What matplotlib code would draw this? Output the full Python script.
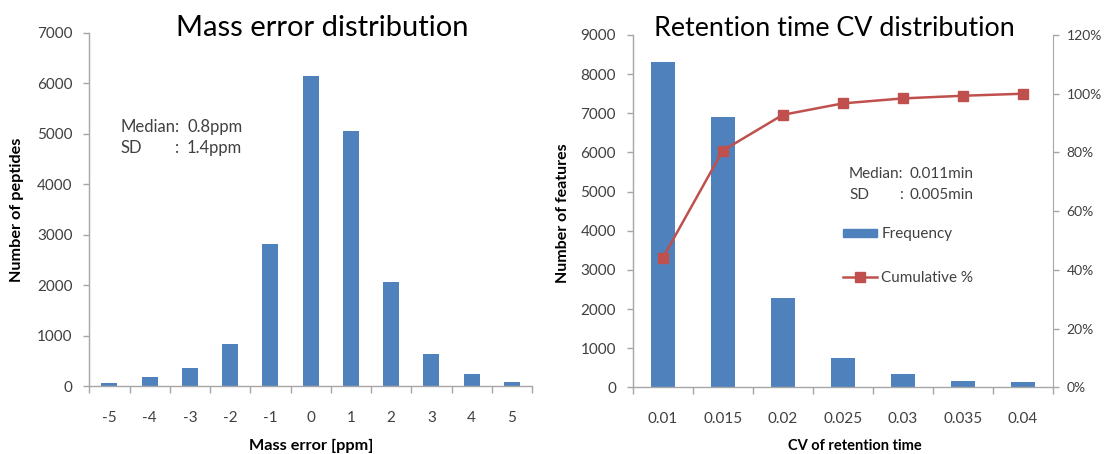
import matplotlib
matplotlib.use("Agg")
import matplotlib.pyplot as plt
from matplotlib.patches import Patch
from matplotlib.lines import Line2D
from matplotlib.ticker import MultipleLocator, FixedLocator

plt.rcParams['font.family'] = ['Lato', 'DejaVu Sans']

# Mass error histogram
mass_error_labels = ["-5", "-4", "-3", "-2", "-1", "0", "1", "2", "3", "4", "5"]
peptide_counts = [55, 185, 357, 827, 2811, 6145, 5060, 2057, 629, 244, 75]

# Retention time CV histogram with cumulative percentage
cv_labels = ["0.01", "0.015", "0.02", "0.025", "0.03", "0.035", "0.04"]
feature_counts = [8300, 6900, 2280, 740, 330, 165, 140]
cumulative_pct = [44.0, 80.6, 92.8, 96.7, 98.4, 99.3, 100.0]

BLUE = "#4F81BD"
RED = "#C0504D"
SPINE = "#A6A6A6"
TEXT = "#404040"
W, H = 1105, 454


def fx(px):
    return px / W


def fy(py):
    return 1 - py / H


fig = plt.figure(figsize=(W / 100, H / 100), dpi=100)


def style_axis(ax, n):
    ax.set_xlim(-0.5, n - 0.5)
    ax.xaxis.set_major_locator(FixedLocator(range(n)))
    ax.xaxis.set_minor_locator(FixedLocator([i - 0.5 for i in range(n + 1)]))
    ax.tick_params(axis='x', which='major', length=0, pad=18, labelsize=11, labelcolor=TEXT)
    ax.tick_params(axis='x', which='minor', length=5, width=1, color=SPINE, direction='out')
    ax.tick_params(axis='y', length=4, width=1, color=SPINE, labelsize=11, labelcolor=TEXT, pad=8)
    for s in ('top', 'right'):
        ax.spines[s].set_visible(False)
    for s in ('left', 'bottom'):
        ax.spines[s].set_color(SPINE)
        ax.spines[s].set_linewidth(1)


# ---- left panel ----
ax1 = fig.add_axes([fx(89.3), fy(386), fx(532 - 89.3), (386 - 33) / H])
x1 = list(range(len(mass_error_labels)))
ax1.bar(x1, peptide_counts, width=0.4, color=BLUE, zorder=2)
style_axis(ax1, len(x1))
ax1.set_xticklabels(mass_error_labels)
ax1.set_ylim(0, 7000)
ax1.yaxis.set_major_locator(MultipleLocator(1000))

fig.text(fx(322), fy(28), "Mass error distribution", ha='center', va='center',
         fontsize=21, color='black')
fig.text(fx(17), fy(210), "Number of peptides", rotation=90, ha='center', va='center',
         fontsize=11.7, fontweight='bold', color='black')
fig.text(fx(311), fy(446), "Mass error [ppm]", ha='center', va='center',
         fontsize=11.7, fontweight='bold', color='black')

for py, key, val in [(127, "Median:", "0.8ppm"), (148, "SD", "1.4ppm")]:
    fig.text(fx(120.7), fy(py), key, ha='left', va='center', fontsize=12, color=TEXT)
    fig.text(fx(187), fy(py), val, ha='left', va='center', fontsize=12, color=TEXT)
fig.text(fx(175), fy(148), ":", ha='left', va='center', fontsize=12, color=TEXT)

# ---- right panel ----
ax2 = fig.add_axes([fx(632.7), fy(387.3), fx(1052.7 - 632.7), (387.3 - 35) / H])
x2 = list(range(len(cv_labels)))
ax2.bar(x2, feature_counts, width=0.4, color=BLUE, zorder=2)
style_axis(ax2, len(x2))
ax2.set_xticklabels(cv_labels)
ax2.set_ylim(0, 9000)
ax2.yaxis.set_major_locator(MultipleLocator(1000))

ax3 = ax2.twinx()
ax3.set_ylim(0, 120)
ax3.plot(x2, cumulative_pct, color=RED, lw=1.8, marker='s', markersize=7.5,
         markeredgecolor=RED, markerfacecolor=RED, zorder=3)
ax3.set_yticks(range(0, 121, 20))
ax3.set_yticklabels([f"{v}%" for v in range(0, 121, 20)])
ax3.tick_params(axis='y', length=4, width=1, color=SPINE, labelsize=10, labelcolor=TEXT, pad=6)
for s in ('top', 'left', 'bottom'):
    ax3.spines[s].set_visible(False)
ax3.spines['right'].set_color(SPINE)

fig.text(fx(834), fy(28), "Retention time CV distribution", ha='center', va='center',
         fontsize=19.4, color='black')
fig.text(fx(563), fy(213), "Number of features", rotation=90, ha='center', va='center',
         fontsize=11.5, fontweight='bold', color='black')
fig.text(fx(855), fy(446), "CV of retention time", ha='center', va='center',
         fontsize=10.5, fontweight='bold', color='black')

for py, key, val in [(174, "Median:", "0.011min"), (195, "SD", "0.005min")]:
    fig.text(fx(849), fy(py), key, ha='left', va='center', fontsize=11, color=TEXT)
    fig.text(fx(909), fy(py), val, ha='left', va='center', fontsize=11, color=TEXT)
fig.text(fx(899), fy(195), ":", ha='left', va='center', fontsize=11, color=TEXT)

handles = [Patch(facecolor=BLUE, edgecolor=BLUE),
           Line2D([], [], color=RED, lw=1.8, marker='s', markersize=7.5)]
fig.legend(handles, ["Frequency", "Cumulative %"], loc='upper left',
           bbox_to_anchor=(fx(843), fy(227.5)), frameon=False, fontsize=11,
           handlelength=2.2, handleheight=0.45, handletextpad=0.3,
           labelspacing=1.9, borderpad=0, borderaxespad=0, labelcolor=TEXT)

fig.savefig("out.png", dpi=100)
